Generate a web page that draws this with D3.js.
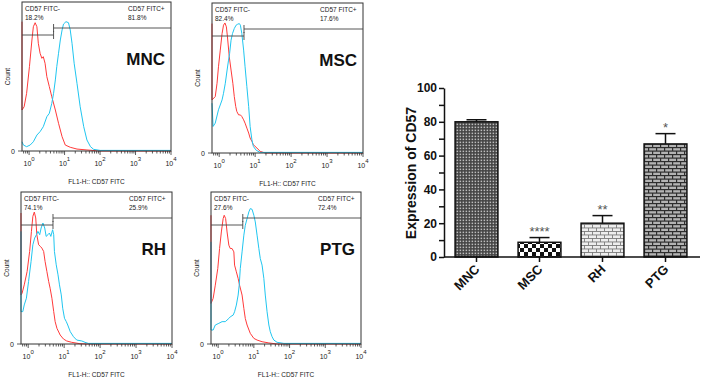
<!DOCTYPE html>
<html>
<head>
<meta charset="utf-8">
<script src="https://cdn.jsdelivr.net/npm/d3@7"></script>
<style>
  html, body { margin: 0; padding: 0; background: #fff; }
  svg { display: block; font-family: Arial, "Liberation Sans", sans-serif; }
</style>
</head>
<body>
<svg id="fig" width="702" height="383"></svg>
<script>
// --- flow histograms: [log10 FL1-H, % of max count] ---
const samples = ['MNC', 'MSC', 'RH', 'PTG'];
const negPct = ['18.2%', '82.4%', '74.1%', '27.6%'];
const posPct = ['81.8%', '17.6%', '25.9%', '72.4%'];
const gateExp = 0.69;
const decades = [0, 1, 2, 3, 4];

const redMNC = [[-0.2,86.8],[-0.2,27.5],[-0.14,29.7],[-0.07,38.7],[0.01,56.6],[0.08,74.5],[0.12,83.4],[0.17,86.1],[0.22,83.4],[0.26,72.3],[0.31,65.6],[0.36,62.2],[0.4,63.3],[0.45,58.9],[0.5,49.9],[0.57,43.2],[0.64,36.4],[0.74,27.5],[0.83,18.6],[0.93,9.6],[1.02,4.0],[1.16,2.5],[1.35,1.3],[1.63,0.7],[2.0,0],[4,0]];
const cyanMNC = [[-0.2,6.2],[-0.16,4.0],[-0.07,2.9],[0.03,4.0],[0.12,6.2],[0.22,10.7],[0.31,13.0],[0.4,16.3],[0.5,23.0],[0.57,25.3],[0.64,32.0],[0.69,38.7],[0.74,47.7],[0.78,56.6],[0.83,65.6],[0.88,74.5],[0.93,81.2],[0.97,85.2],[1.04,86.8],[1.11,86.1],[1.16,81.2],[1.21,72.3],[1.27,58.9],[1.35,45.4],[1.44,29.7],[1.54,16.3],[1.63,7.4],[1.73,2.9],[1.82,1.1],[2.0,0.4],[4,0.4]];
const redMSC = [[-0.2,86.3],[-0.2,35.4],[-0.11,37.6],[-0.06,46.5],[-0.02,57.5],[0.03,68.6],[0.08,79.6],[0.12,85.2],[0.16,86.7],[0.2,84.1],[0.23,77.4],[0.28,64.2],[0.33,55.3],[0.38,46.5],[0.42,37.6],[0.46,31.0],[0.49,27.7],[0.54,25.4],[0.59,25.4],[0.63,24.3],[0.68,22.1],[0.72,19.9],[0.77,16.6],[0.82,13.3],[0.86,10.0],[0.91,7.7],[0.95,5.5],[1.05,3.3],[1.14,1.1],[1.28,0],[4,0]];
const cyanMSC = [[-0.2,33.2],[-0.17,17.7],[-0.11,19.9],[-0.02,28.8],[0.08,35.4],[0.12,39.8],[0.17,46.5],[0.22,55.3],[0.26,61.9],[0.29,66.4],[0.33,75.2],[0.37,79.6],[0.42,83.0],[0.47,85.2],[0.51,85.8],[0.56,86.3],[0.59,85.2],[0.63,79.6],[0.68,68.6],[0.72,57.5],[0.77,44.2],[0.82,31.0],[0.86,17.7],[0.91,8.8],[0.95,4.4],[1.03,1.8],[1.14,0.4],[4,0.4]];
const redRH = [[-0.2,86.2],[-0.2,32.3],[-0.17,33.4],[-0.11,38.9],[-0.03,47.7],[0.04,60.9],[0.09,74.1],[0.13,84.0],[0.17,86.8],[0.21,82.9],[0.24,71.9],[0.29,65.3],[0.34,64.2],[0.38,63.1],[0.43,60.9],[0.47,54.3],[0.52,47.7],[0.57,41.1],[0.61,36.7],[0.66,30.1],[0.71,21.3],[0.75,14.7],[0.8,10.3],[0.89,5.9],[0.98,3.3],[1.07,2.0],[1.21,1.1],[1.44,0.2],[1.63,0],[4,0]];
const cyanRH = [[-0.2,74.1],[-0.2,21.3],[-0.15,21.3],[-0.11,25.7],[-0.05,30.1],[0.01,41.1],[0.08,54.3],[0.13,65.3],[0.18,69.7],[0.23,71.9],[0.27,74.1],[0.32,71.9],[0.36,76.3],[0.41,79.6],[0.46,76.3],[0.5,70.8],[0.55,71.9],[0.59,73.0],[0.63,70.8],[0.68,75.2],[0.71,71.9],[0.73,60.9],[0.78,52.1],[0.83,45.5],[0.87,38.9],[0.92,32.3],[0.96,23.5],[1.01,16.9],[1.06,14.7],[1.1,12.5],[1.17,8.1],[1.26,4.8],[1.35,2.6],[1.49,2.0],[1.58,1.1],[1.67,0.4],[4,0.4]];
const redPTG = [[-0.2,84.7],[-0.2,26.7],[-0.14,30.0],[-0.08,38.7],[-0.01,49.7],[0.04,62.8],[0.09,73.7],[0.14,82.5],[0.17,84.7],[0.21,82.5],[0.25,73.7],[0.3,65.0],[0.34,62.8],[0.39,62.8],[0.44,60.6],[0.46,51.9],[0.51,47.5],[0.56,43.1],[0.6,38.7],[0.67,32.2],[0.72,23.4],[0.76,16.8],[0.81,12.5],[0.9,7.0],[1.0,3.7],[1.09,2.6],[1.23,1.5],[1.42,0.7],[1.65,0],[4,0]];
const cyanPTG = [[-0.2,67.2],[-0.2,9.2],[-0.14,9.2],[-0.08,12.5],[0.02,13.6],[0.11,14.7],[0.2,14.7],[0.3,16.8],[0.34,17.9],[0.42,19.0],[0.46,21.2],[0.51,25.6],[0.56,32.2],[0.59,38.7],[0.62,49.7],[0.67,60.6],[0.72,71.6],[0.76,78.1],[0.81,82.5],[0.86,86.9],[0.9,89.1],[0.95,88.6],[1.0,84.7],[1.04,80.3],[1.09,71.6],[1.14,62.8],[1.18,56.2],[1.23,51.9],[1.28,43.1],[1.32,32.2],[1.37,21.2],[1.42,12.5],[1.46,8.1],[1.51,4.8],[1.56,2.6],[1.65,1.1],[1.84,0.4],[4,0.4]];

const redCurves = [redMNC, redMSC, redRH, redPTG];
const cyanCurves = [cyanMNC, cyanMSC, cyanRH, cyanPTG];

// --- bar chart ---
const barCats = ['MNC', 'MSC', 'RH', 'PTG'];
const barValues = [80, 8.7, 20, 66.9];
const barErrors = [1.2, 2.8, 4.5, 6.1];
const barStars = ['', '****', '**', '*'];
const yTickValues = [0, 10, 20, 30, 40, 50, 60, 70, 80, 90, 100];

const svg = d3.select('#fig');
const RED = '#ff3a3a', CYAN = '#20c6f0', INK = '#222';

// panel boxes [left, top, right, bottom]
const boxes = [[22, 2, 171, 151], [212, 3, 363, 153], [21, 192, 172, 344], [211, 192, 361, 344]];

samples.forEach((name, i) => {
  const [x0, y0, x1, y1] = boxes[i];
  const x = d3.scaleLog().domain([Math.pow(10, -0.2), 1e4]).range([x0, x1]);
  const y = d3.scaleLinear().domain([0, 100]).range([y1, y0]);
  const g = svg.append('g');

  const line = d3.line().x(d => x(Math.pow(10, d[0]))).y(d => y(d[1]));
  g.append('path').attr('d', line(redCurves[i]))
    .attr('fill', 'none').attr('stroke', RED).attr('stroke-width', 1);
  g.append('path').attr('d', line(cyanCurves[i]))
    .attr('fill', 'none').attr('stroke', CYAN).attr('stroke-width', 1);

  g.append('rect').attr('x', x0).attr('y', y0)
    .attr('width', x1 - x0).attr('height', y1 - y0)
    .attr('fill', 'none').attr('stroke', '#333').attr('stroke-width', 1);

  // log ticks
  x.ticks().forEach(t => {
    const major = decades.includes(Math.round(Math.log10(t) * 1000) / 1000);
    g.append('line').attr('x1', x(t)).attr('x2', x(t))
      .attr('y1', y1).attr('y2', y1 + (major ? 4 : 2.5))
      .attr('stroke', '#333').attr('stroke-width', 0.8);
  });
  decades.forEach(k => {
    const t = g.append('text').attr('x', x(Math.pow(10, k))).attr('y', y1 + 15)
      .attr('text-anchor', 'middle').attr('font-size', 7).attr('fill', INK);
    t.append('tspan').text('10');
    t.append('tspan').attr('dy', -5).attr('font-size', 6).text(k);
  });
  g.append('line').attr('x1', x0 - 4).attr('x2', x0).attr('y1', y1).attr('y2', y1)
    .attr('stroke', '#333').attr('stroke-width', 0.8);
  g.append('text').attr('x', x0 - 7).attr('y', y1 + 2.5)
    .attr('text-anchor', 'end').attr('font-size', 7).attr('fill', INK).text('0');

  g.append('text')
    .attr('transform', `translate(${x0 - 12},${(y0 + y1) / 2}) rotate(-90)`)
    .attr('text-anchor', 'middle').attr('font-size', 6.5).attr('fill', INK).text('Count');
  g.append('text').attr('x', (x0 + x1) / 2).attr('y', y1 + 33)
    .attr('text-anchor', 'middle').attr('font-size', 6.5).attr('fill', INK)
    .text('FL1-H:: CD57 FITC');

  // gates
  const gx = x(Math.pow(10, gateExp));
  const gl = y0 + 33, gr = y0 + 26;
  g.append('path')
    .attr('d', `M${x0},${gl}H${gx}M${gx},${gl - 4}V${gl + 4}M${gx},${gr}H${x1}M${gx},${gr - 4}V${gr + 4}`)
    .attr('fill', 'none').attr('stroke', '#444').attr('stroke-width', 0.9);

  g.append('text').attr('x', x0 + 3).attr('y', y0 + 9)
    .attr('font-size', 6.5).attr('fill', INK).text('CD57 FITC-');
  g.append('text').attr('x', x0 + 3).attr('y', y0 + 18)
    .attr('font-size', 6.5).attr('fill', INK).text(negPct[i]);
  g.append('text').attr('x', x1 - 43).attr('y', y0 + 9)
    .attr('font-size', 6.5).attr('fill', INK).text('CD57 FITC+');
  g.append('text').attr('x', x1 - 43).attr('y', y0 + 18)
    .attr('font-size', 6.5).attr('fill', INK).text(posPct[i]);

  g.append('text').attr('x', x1 - 6).attr('y', y0 + 63)
    .attr('text-anchor', 'end').attr('font-size', 17).attr('font-weight', 'bold')
    .attr('fill', '#111').text(name);
});

// --- bar chart ---
const defs = svg.append('defs');
const mnc = defs.append('pattern').attr('id', 'p-mnc').attr('patternUnits', 'userSpaceOnUse')
  .attr('width', 3).attr('height', 3);
mnc.append('rect').attr('width', 3).attr('height', 3).attr('fill', '#444');
mnc.append('rect').attr('x', 0.6).attr('y', 0.6).attr('width', 1.5).attr('height', 1.5).attr('fill', '#bdbdbd');

const msc = defs.append('pattern').attr('id', 'p-msc').attr('patternUnits', 'userSpaceOnUse')
  .attr('width', 8).attr('height', 8);
msc.append('rect').attr('width', 8).attr('height', 8).attr('fill', '#fff');
msc.append('rect').attr('width', 4).attr('height', 4).attr('fill', '#111');
msc.append('rect').attr('x', 4).attr('y', 4).attr('width', 4).attr('height', 4).attr('fill', '#111');

function brick(id, mortar, stone, gap) {
  const p = defs.append('pattern').attr('id', id).attr('patternUnits', 'userSpaceOnUse')
    .attr('width', 8).attr('height', 7);
  p.append('rect').attr('width', 8).attr('height', 7).attr('fill', mortar);
  p.append('rect').attr('x', gap).attr('y', gap).attr('width', 8 - gap).attr('height', 3.5 - gap).attr('fill', stone);
  p.append('rect').attr('x', 0).attr('y', 3.5 + gap).attr('width', 4).attr('height', 3.5 - gap).attr('fill', stone);
  p.append('rect').attr('x', 4 + gap).attr('y', 3.5 + gap).attr('width', 4 - gap).attr('height', 3.5 - gap).attr('fill', stone);
}
brick('p-rh', '#7a7a7a', '#eeeeee', 0.9);
brick('p-ptg', '#2e2e2e', '#b4b4b4', 1.2);
const fills = ['url(#p-mnc)', 'url(#p-msc)', 'url(#p-rh)', 'url(#p-ptg)'];

const bx = d3.scaleBand().domain(barCats).range([445, 697]).paddingInner(0.32).paddingOuter(0.16);
const by = d3.scaleLinear().domain([0, 100]).range([257, 88]);
const bars = svg.append('g');

bars.selectAll('line.err').data(barCats).join('line').attr('class', 'err')
  .attr('x1', d => bx(d) + bx.bandwidth() / 2).attr('x2', d => bx(d) + bx.bandwidth() / 2)
  .attr('y1', (d, i) => by(barValues[i])).attr('y2', (d, i) => by(barValues[i] + barErrors[i]))
  .attr('stroke', '#111').attr('stroke-width', 1.5);
bars.selectAll('line.cap').data(barCats).join('line').attr('class', 'cap')
  .attr('x1', d => bx(d) + bx.bandwidth() / 2 - 10).attr('x2', d => bx(d) + bx.bandwidth() / 2 + 10)
  .attr('y1', (d, i) => by(barValues[i] + barErrors[i])).attr('y2', (d, i) => by(barValues[i] + barErrors[i]))
  .attr('stroke', '#111').attr('stroke-width', 1.5);
bars.selectAll('rect.bar').data(barCats).join('rect').attr('class', 'bar')
  .attr('x', d => bx(d)).attr('width', bx.bandwidth())
  .attr('y', (d, i) => by(barValues[i])).attr('height', (d, i) => by(0) - by(barValues[i]))
  .attr('fill', (d, i) => fills[i]).attr('stroke', '#111').attr('stroke-width', 1.5);
bars.selectAll('text.star').data(barCats).join('text').attr('class', 'star')
  .attr('x', d => bx(d) + bx.bandwidth() / 2)
  .attr('y', (d, i) => by(barValues[i] + barErrors[i]) - 2)
  .attr('text-anchor', 'middle').attr('font-size', 13).attr('fill', '#555')
  .text((d, i) => barStars[i]);

const yAxis = svg.append('g').attr('transform', 'translate(444,0)')
  .call(d3.axisLeft(by).tickValues(yTickValues).tickSize(5).tickSizeOuter(0)
    .tickFormat(d => d % 20 ? '' : d));
yAxis.selectAll('path, line').attr('stroke', '#111').attr('stroke-width', 1.5);
yAxis.selectAll('text').attr('font-size', 12).attr('font-weight', 'bold')
  .attr('font-family', 'Arial, "Liberation Sans", sans-serif').attr('fill', '#111').attr('x', -7);

const xAxis = svg.append('g').attr('transform', 'translate(0,257)')
  .call(d3.axisBottom(bx).tickSize(5).tickSizeOuter(0));
xAxis.select('.domain').remove();
xAxis.append('line').attr('x1', 444).attr('x2', 700).attr('stroke', '#111').attr('stroke-width', 1.5);
xAxis.selectAll('line').attr('stroke', '#111').attr('stroke-width', 1.5);
xAxis.selectAll('.tick text')
  .attr('font-size', 13).attr('font-weight', 'bold').attr('fill', '#111')
  .attr('font-family', 'Arial, "Liberation Sans", sans-serif')
  .attr('text-anchor', 'end').attr('dy', null)
  .attr('transform', 'translate(4,13) rotate(-45)').attr('y', 0);

svg.append('text')
  .attr('transform', 'translate(416,173) rotate(-90)')
  .attr('text-anchor', 'middle').attr('font-size', 14).attr('font-weight', 'bold')
  .attr('fill', '#111').text('Expression of CD57');
</script>
</body>
</html>
